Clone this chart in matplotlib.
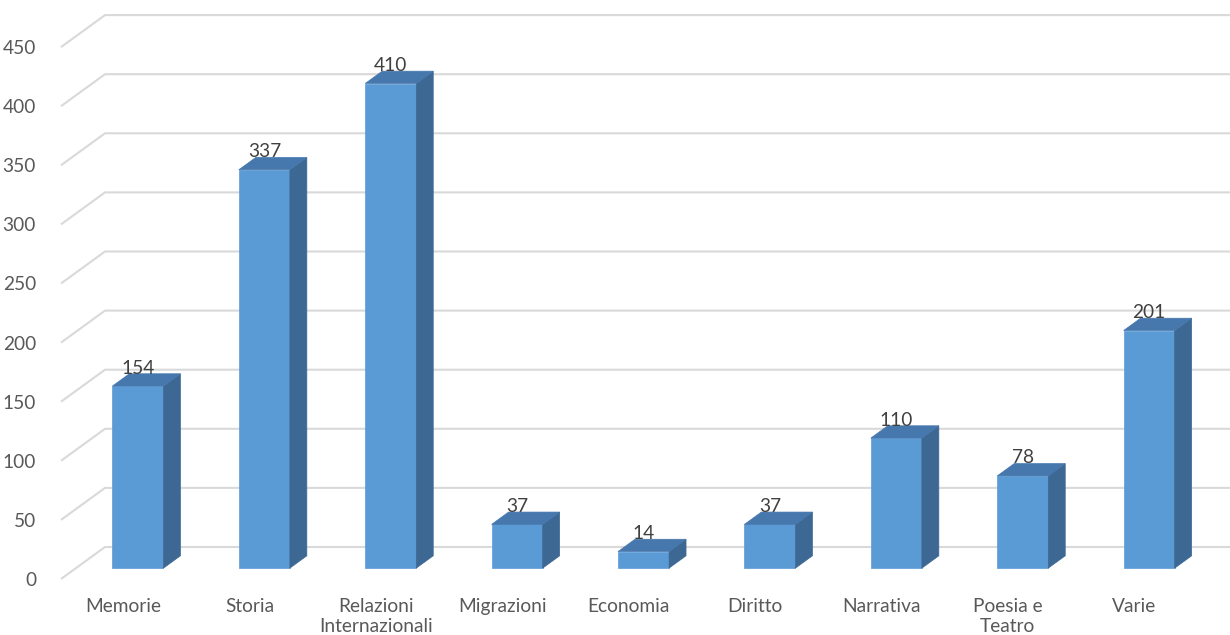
import matplotlib
matplotlib.use("Agg")
import matplotlib.pyplot as plt
from matplotlib.patches import Polygon

categories = ["Memorie", "Storia", "Relazioni\nInternazionali", "Migrazioni",
              "Economia", "Diritto", "Narrativa", "Poesia e\nTeatro", "Varie"]
values = [154, 337, 410, 37, 14, 37, 110, 78, 201]
yticks = [0, 50, 100, 150, 200, 250, 300, 350, 400, 450]

plt.rcParams['font.family'] = ['Lato', 'DejaVu Sans']

W, H = 1230, 635
fig = plt.figure(figsize=(W / 100, H / 100), dpi=100)

# pixel geometry of the projection
px_per_cat = 126.4
px_per_val = 1.182
x_front0 = 123.0      # px of category 0 on the front plane
y_front0 = 579.0      # px of value 0 on the front plane
left_px = 61.0
# depth vector (full depth) in data units
DC = 44.0 / px_per_cat
DV = 32.0 / px_per_val

ax = fig.add_axes([left_px / W, (H - y_front0) / H, 1 - left_px / W, y_front0 / H])
ax.set_xlim((left_px - x_front0) / px_per_cat, (W - x_front0) / px_per_cat)
ax.set_ylim(0, y_front0 / px_per_val)
for s in ax.spines.values():
    s.set_visible(False)

tick_color = "#595959"
fs = 13.8
ax.set_yticks(yticks)
ax.set_yticklabels([str(t) for t in yticks], color=tick_color, fontsize=fs)
ax.set_xticks(range(len(categories)))
ax.set_xticklabels(categories, color=tick_color, fontsize=fs, linespacing=1.2, va='top')
ax.tick_params(axis='y', length=0, pad=18)
ax.tick_params(axis='x', length=0, pad=13.5)

# gridlines in perspective: diagonal on left wall, then horizontal on back wall
x0 = ax.get_xlim()[0]
x1 = ax.get_xlim()[1]
grid_color = "#d9d9d9"
for t in yticks:
    ax.plot([x0, x0 + DC, x1], [t, t + DV, t + DV], color=grid_color, lw=1.5,
            zorder=1, clip_on=False, solid_capstyle='butt')

# bars
t0, t1 = 0.34, 0.725
half_w = 0.202
front_c = "#5b9bd5"
side_c = "#3c6893"
top_c = "#4677ad"
for i, v in enumerate(values):
    cx = i + t0 * DC
    xl, xr = cx - half_w, cx + half_w
    yb = t0 * DV
    yt = v + t0 * DV
    ddc = (t1 - t0) * DC
    ddv = (t1 - t0) * DV
    front = Polygon([(xl, yb), (xr, yb), (xr, yt), (xl, yt)], closed=True,
                    facecolor=front_c, edgecolor=front_c, lw=0.5, zorder=3)
    side = Polygon([(xr, yb), (xr + ddc, yb + ddv), (xr + ddc, yt + ddv), (xr, yt)],
                   closed=True, facecolor=side_c, edgecolor=side_c, lw=0.5, zorder=3)
    top = Polygon([(xl, yt), (xr, yt), (xr + ddc, yt + ddv), (xl + ddc, yt + ddv)],
                  closed=True, facecolor=top_c, edgecolor=top_c, lw=0.5, zorder=3)
    ax.add_patch(front)
    ax.add_patch(side)
    ax.add_patch(top)
    ax.annotate(str(v), xy=(cx, yt + ddv), xytext=(0, -2), textcoords='offset points',
                ha='center', va='bottom', color="#404040", fontsize=fs, zorder=4)

fig.savefig("out.png", dpi=100)
